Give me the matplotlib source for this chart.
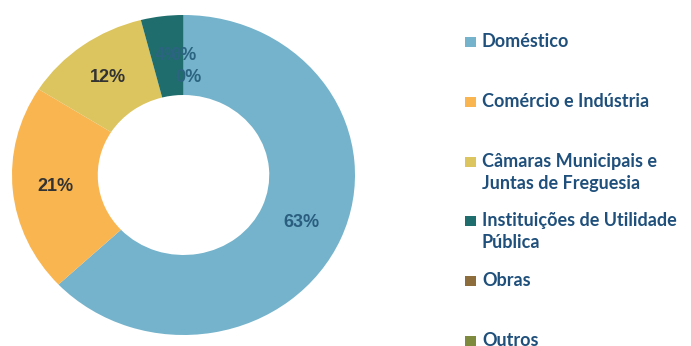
import matplotlib
matplotlib.use("Agg")
import matplotlib.pyplot as plt
from matplotlib.patches import Rectangle

# Consumption share by customer type (%)
categories = [
    "Doméstico",
    "Comércio e Indústria",
    "Câmaras Municipais e\nJuntas de Freguesia",
    "Instituições de Utilidade\nPública",
    "Obras",
    "Outros",
]
shares = [63, 21, 12, 4, 0, 0]

colors = ["#74b3cb", "#f9b550", "#dcc45e", "#1f6d6c", "#8c6d3b", "#7e8a3d"]
label_colors = ["#2a5d7e", "#333333", "#333333", "#2b6480", "#2b6480", "#2b6480"]
legend_text_color = "#1f4f7b"

W, H = 691, 346
fig = plt.figure(figsize=(W / 100, H / 100), dpi=100)

# donut axes (slightly flattened ring)
ax = fig.add_axes([12 / W, (H - 335) / H, 343 / W, 320 / H])
wedges, texts, autotexts = ax.pie(
    shares,
    colors=colors,
    startangle=90,
    counterclock=False,
    radius=1,
    wedgeprops=dict(width=0.5, linewidth=0),
    autopct=lambda p: f"{p:.0f}%",
    pctdistance=0.75,
    textprops=dict(fontsize=13, fontweight="bold", family="Liberation Sans"),
)
ax.set_aspect("auto")
ax.set_xlim(-1, 1)
ax.set_ylim(-1, 1)

for t, c in zip(autotexts, label_colors):
    t.set_color(c)

# last label sits a bit closer to the hole
last = autotexts[-1]
x0, y0 = last.get_position()
last.set_position((x0 + 0.03, y0 * 0.61 / 0.75))

# legend drawn on the right
x_box, x_txt = 465, 482
base0, step, line_gap = 47, 59.8, 22
for i, (cat, col) in enumerate(zip(categories, colors)):
    base = base0 + i * step
    fig.patches.append(Rectangle((x_box / W, 1 - base / H), 11 / W, 10 / H,
                                 transform=fig.transFigure, facecolor=col,
                                 edgecolor="none"))
    for j, line in enumerate(cat.split("\n")):
        fig.text(x_txt / W, 1 - (base + j * line_gap) / H, line,
                 fontsize=13, family="Lato", fontweight="bold",
                 color=legend_text_color, va="baseline", ha="left")

fig.savefig("out.png", dpi=100)
